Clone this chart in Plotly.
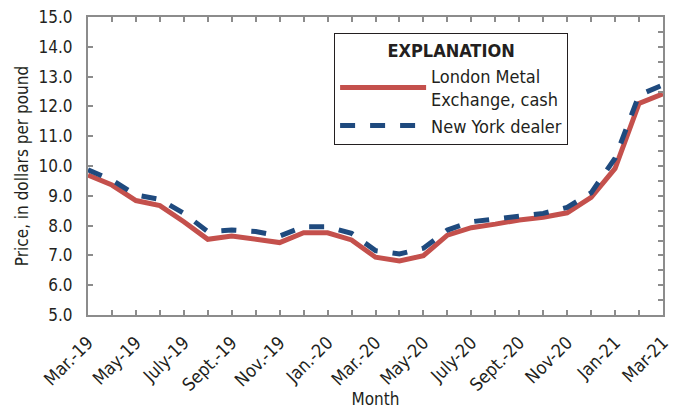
import plotly.graph_objects as go

months = ["Mar-19","Apr-19","May-19","Jun-19","Jul-19","Aug-19","Sep-19","Oct-19","Nov-19","Dec-19",
          "Jan-20","Feb-20","Mar-20","Apr-20","May-20","Jun-20","Jul-20","Aug-20","Sep-20","Oct-20",
          "Nov-20","Dec-20","Jan-21","Feb-21","Mar-21"]
tick_labels = ["Mar.-19","May-19","July-19","Sept.-19","Nov.-19","Jan.-20","Mar.-20","May-20",
               "July-20","Sept.-20","Nov-20","Jan-21","Mar-21"]
lme = [9.70, 9.36, 8.84, 8.67, 8.13, 7.54, 7.65, 7.53, 7.43, 7.76,
       7.76, 7.52, 6.94, 6.81, 6.99, 7.68, 7.93, 8.05, 8.19, 8.28,
       8.43, 8.95, 9.92, 12.10, 12.42]
ny = [9.87, 9.53, 9.03, 8.88, 8.41, 7.80, 7.85, 7.80, 7.65, 7.96,
      7.96, 7.74, 7.16, 7.05, 7.24, 7.85, 8.13, 8.21, 8.32, 8.41,
      8.61, 9.10, 10.26, 12.38, 12.72]

x = list(range(len(months)))
ticktext = []
for i in x:
    ticktext.append(tick_labels[i // 2] if i % 2 == 0 else "")

FONT = "DejaVu Sans Condensed, Liberation Sans Narrow, sans-serif"
AXC = "#8c8c8c"
TXT = "#231f20"

fig = go.Figure()
fig.add_trace(go.Scatter(x=x, y=lme, mode="lines", name="London Metal<br>Exchange, cash",
                         line=dict(color="#c4504c", width=5)))
fig.add_trace(go.Scatter(x=x, y=ny, mode="lines", name="New York dealer",
                         line=dict(color="#1f4a7e", width=5, dash="dash")))
fig.add_trace(go.Scatter(x=[0], y=[5], mode="markers", marker=dict(opacity=0), yaxis="y2",
                         showlegend=False, hoverinfo="skip"))

fig.update_layout(
    width=675, height=409,
    margin=dict(l=88, r=12, t=17, b=94),
    paper_bgcolor="white", plot_bgcolor="white",
    font=dict(family=FONT, size=16, color=TXT),
    xaxis=dict(range=[0, 24], tickmode="array", tickvals=x, ticktext=ticktext,
               tickangle=-45, ticks="inside", ticklen=5, tickcolor=AXC, tickwidth=1.5,
               showline=True, linecolor=AXC, linewidth=2, mirror="ticks",
               showgrid=False, zeroline=False, automargin=False, ticklabelstandoff=8,
               title=dict(text="Month", standoff=2, font=dict(size=17)), tickfont=dict(size=18)),
    yaxis=dict(range=[5, 15], dtick=1, tickformat=".1f", ticks="inside", ticklen=5,
               tickcolor=AXC, tickwidth=1.5,
               showline=True, linecolor=AXC, linewidth=2, mirror=True,
               showgrid=False, zeroline=False, automargin=False, ticklabelstandoff=10,
               title=dict(text="Price, in dollars per pound", standoff=6, font=dict(size=17)),
               tickfont=dict(size=17)),
    yaxis2=dict(range=[5, 15], dtick=0.5, overlaying="y", side="right", ticks="inside",
                ticklen=5, tickcolor=AXC, tickwidth=1.5, showticklabels=False,
                showgrid=False, zeroline=False, showline=False, automargin=False),
    legend=dict(x=0.428, y=0.946, xanchor="left", yanchor="top",
                bordercolor=TXT, borderwidth=1, bgcolor="white", itemwidth=86,
                title=dict(text="<b>EXPLANATION</b>", side="top center", font=dict(size=18)),
                font=dict(size=18), tracegroupgap=0),
)

fig.write_html("out.html", config={"displayModeBar": False},
               post_script="document.body.style.margin='0';document.body.style.overflow='hidden';")
